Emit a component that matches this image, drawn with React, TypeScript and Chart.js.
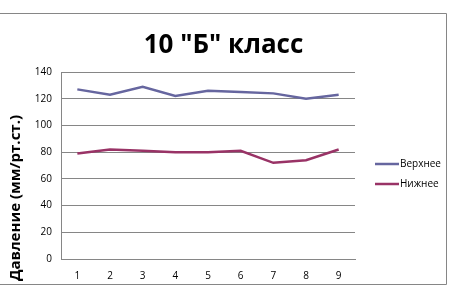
import { useEffect, useRef } from "react";
import { Chart, registerables } from "chart.js";

Chart.register(...registerables);

const categories = ["1", "2", "3", "4", "5", "6", "7", "8", "9"];
const upperValues = [127, 123, 129, 122, 126, 125, 124, 120, 123];
const lowerValues = [79, 82, 81, 80, 80, 81, 72, 74, 82];
const seriesNames = ["Верхнее", "Нижнее"];
const seriesColors = ["#66669f", "#993366"];
const yMin = 0;
const yMax = 140;
const yStep = 20;
const titleText = '10 "Б" класс';
const yTitleText = "Давление (мм/рт.ст.)";

const FONT = "'Open Sans', 'Liberation Sans', sans-serif";
const GRID = "#868686";

const decorPlugin = {
  id: "decor",
  beforeDraw(chart: any) {
    const ctx = chart.ctx;
    ctx.save();
    ctx.strokeStyle = GRID;
    ctx.lineWidth = 1;
    ctx.beginPath();
    ctx.moveTo(0, 13.5);
    ctx.lineTo(446.5, 13.5);
    ctx.lineTo(446.5, 284.5);
    ctx.lineTo(0, 284.5);
    ctx.stroke();
    ctx.restore();
  },
  afterDraw(chart: any) {
    const ctx = chart.ctx;
    ctx.save();
    // title
    ctx.fillStyle = "#000";
    ctx.font = `bold 26px ${FONT}`;
    ctx.textAlign = "center";
    ctx.textBaseline = "middle";
    ctx.fillText(titleText, 223.5, 46);
    // y axis title
    ctx.save();
    ctx.translate(15.5, 198);
    ctx.rotate(-Math.PI / 2);
    ctx.font = `bold 15px ${FONT}`;
    ctx.fillText(yTitleText, 0, 0);
    ctx.restore();
    // legend
    ctx.font = `10px ${FONT}`;
    ctx.textAlign = "left";
    const ys = [164, 184];
    chart.data.datasets.forEach((ds: any, i: number) => {
      ctx.strokeStyle = ds.borderColor;
      ctx.lineWidth = 2.5;
      ctx.beginPath();
      ctx.moveTo(375, ys[i]);
      ctx.lineTo(399, ys[i]);
      ctx.stroke();
      ctx.fillStyle = "#000";
      ctx.fillText(ds.label, 400, ys[i]);
    });
    ctx.restore();
  },
};

export default function App() {
  const ref = useRef<HTMLCanvasElement>(null);
  useEffect(() => {
    document.body.style.margin = "0";
    const chart = new Chart(ref.current as HTMLCanvasElement, {
      type: "line",
      data: {
        labels: categories,
        datasets: [
          {
            label: seriesNames[0],
            data: upperValues,
            borderColor: seriesColors[0],
            backgroundColor: seriesColors[0],
            borderWidth: 2.5,
            pointRadius: 0,
            tension: 0,
          },
          {
            label: seriesNames[1],
            data: lowerValues,
            borderColor: seriesColors[1],
            backgroundColor: seriesColors[1],
            borderWidth: 2.5,
            pointRadius: 0,
            tension: 0,
          },
        ],
      },
      options: {
        responsive: false,
        animation: false,
        layout: { padding: { left: 0, right: 106, top: 72, bottom: 0 } },
        plugins: {
          legend: { display: false },
          title: { display: false },
          tooltip: { enabled: false },
        },
        scales: {
          x: {
            type: "category",
            offset: true,
            grid: { display: false, drawTicks: false },
            border: { display: true, color: GRID, width: 1 },
            ticks: { color: "#000", font: { family: FONT, size: 10 }, padding: 11 },
            afterFit(scale: any) {
              scale.height = 36;
            },
          },
          y: {
            min: yMin,
            max: yMax,
            grid: { color: GRID, drawTicks: false, lineWidth: 1 },
            border: { display: true, color: GRID, width: 1 },
            ticks: {
              stepSize: yStep,
              color: "#000",
              font: { family: FONT, size: 10 },
              padding: 9,
            },
            afterFit(scale: any) {
              scale.width = 61;
            },
          },
        },
      },
      plugins: [decorPlugin],
    });
    return () => chart.destroy();
  }, []);
  return (
    <div style={{ position: "relative", width: 461, height: 295, background: "#fff" }}>
      <canvas ref={ref} width={461} height={295} />
    </div>
  );
}
